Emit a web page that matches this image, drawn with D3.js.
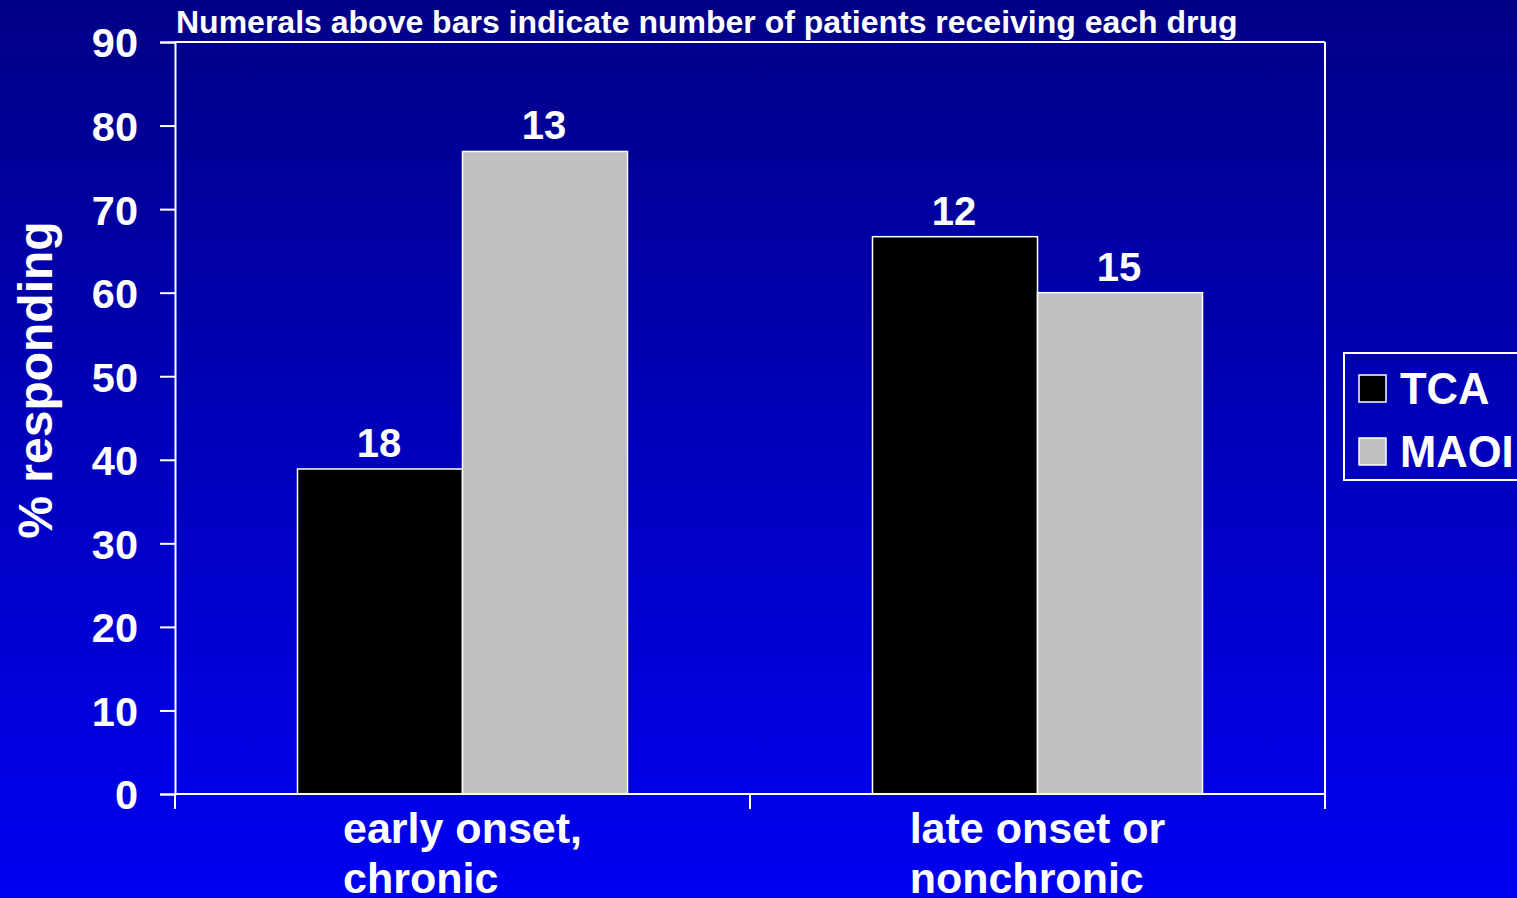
<!DOCTYPE html>
<html><head><meta charset="utf-8">
<script src="https://cdn.jsdelivr.net/npm/d3@7"></script>
<style>
html,body{margin:0;padding:0;overflow:hidden;}
text{font-family:"Liberation Sans",Arial,sans-serif;font-weight:bold;fill:#fff;}
</style></head>
<body>
<script>
const categories = [["early onset,", "chronic"], ["late onset or", "nonchronic"]];
const seriesNames = ["TCA", "MAOI"];
const seriesColors = ["#000000", "#C0C0C0"];
const tcaValues = [38.9, 66.7];
const maoiValues = [76.9, 60.0];
const patientCounts = [[18, 12], [13, 15]];
const yTicks = [0, 10, 20, 30, 40, 50, 60, 70, 80, 90];
const titleText = "Numerals above bars indicate number of patients receiving each drug";
const yTitle = "% responding";

const W = 1517, H = 898;
const m = {left: 175, right: 1325, top: 42, bottom: 794};
const svg = d3.select("body").append("svg").attr("width", W).attr("height", H);

const grad = svg.append("defs").append("linearGradient").attr("id", "bg")
  .attr("x1", 0).attr("y1", 0).attr("x2", 0).attr("y2", 1);
grad.append("stop").attr("offset", "0%").attr("stop-color", "#000086");
grad.append("stop").attr("offset", "100%").attr("stop-color", "#0000F2");
svg.append("rect").attr("width", W).attr("height", H).attr("fill", "url(#bg)");

const catIdx = categories.map((c, i) => i);
const x0 = d3.scaleBand().domain(catIdx).range([m.left, m.right]).padding(0);
const groupFrac = 330 / 575;
const x1 = d3.scaleBand().domain(seriesNames)
  .range([x0.bandwidth() * (1 - groupFrac) / 2, x0.bandwidth() * (1 + groupFrac) / 2]).padding(0);
const y = d3.scaleLinear().domain([0, 90]).range([m.bottom, m.top]);

const seriesValues = [tcaValues, maoiValues];

// frame top & right
svg.append("line").attr("x1", m.left).attr("x2", m.right).attr("y1", m.top).attr("y2", m.top)
  .attr("stroke", "#fff").attr("stroke-width", 2);
svg.append("line").attr("x1", m.right).attr("x2", m.right).attr("y1", m.top).attr("y2", m.bottom)
  .attr("stroke", "#fff").attr("stroke-width", 2);

// bars
seriesNames.forEach((s, si) => {
  svg.append("g").selectAll("rect").data(catIdx).join("rect")
    .attr("x", i => x0(i) + x1(s))
    .attr("y", i => y(seriesValues[si][i]))
    .attr("width", x1.bandwidth())
    .attr("height", i => y(0) - y(seriesValues[si][i]))
    .attr("fill", seriesColors[si])
    .attr("stroke", "#fff").attr("stroke-width", 1.5);
  svg.append("g").selectAll("text").data(catIdx).join("text")
    .attr("x", i => x0(i) + x1(s) + x1.bandwidth() / 2 - 1)
    .attr("y", i => y(seriesValues[si][i]) - 12)
    .attr("text-anchor", "middle").attr("font-size", 40)
    .text(i => patientCounts[si][i]);
});

// y axis
const yAxis = svg.append("g").attr("transform", `translate(${m.left},0)`)
  .call(d3.axisLeft(y).tickValues(yTicks).tickSize(15).tickPadding(22));
yAxis.select(".domain").attr("stroke", "#fff").attr("stroke-width", 2);
yAxis.selectAll(".tick line").attr("stroke", "#fff").attr("stroke-width", 2);
yAxis.selectAll(".tick text").attr("font-size", 41.5).attr("fill", "#fff")
  .attr("font-family", "Liberation Sans, Arial, sans-serif").attr("font-weight", "bold").attr("dy", "0.36em");

// x axis line + ticks
const xAxis = svg.append("g").attr("transform", `translate(0,${m.bottom})`);
xAxis.append("line").attr("x1", m.left).attr("x2", m.right).attr("stroke", "#fff").attr("stroke-width", 2);
const xt = [m.left, ...catIdx.map(i => x0(i) + x0.bandwidth())];
xAxis.selectAll("line.t").data(xt).join("line").attr("class", "t")
  .attr("x1", d => d).attr("x2", d => d).attr("y1", 0).attr("y2", 15)
  .attr("stroke", "#fff").attr("stroke-width", 2);

// category labels
catIdx.forEach(i => {
  const cx = x0(i) + x0.bandwidth() / 2;
  const g = svg.append("g");
  const lines = categories[i].map((t, li) => g.append("text")
    .attr("font-size", 43).attr("y", 843 + li * 50).text(t));
  const w0 = lines[0].node().getComputedTextLength();
  lines.forEach(l => l.attr("x", cx - w0 / 2));
});

// title
svg.append("text").attr("x", m.left + 1).attr("y", 33).attr("font-size", 32).text(titleText);

// y title
svg.append("text").attr("transform", `translate(52,380) rotate(-90)`)
  .attr("text-anchor", "middle").attr("font-size", 48).text(yTitle);

// legend
const lg = svg.append("g");
lg.append("rect").attr("x", 1344).attr("y", 353).attr("width", 200).attr("height", 127)
  .attr("fill", "none").attr("stroke", "#fff").attr("stroke-width", 2);
seriesNames.forEach((s, si) => {
  lg.append("rect").attr("x", 1359).attr("y", 375 + si * 63).attr("width", 27).attr("height", 27)
    .attr("fill", seriesColors[si]).attr("stroke", "#fff").attr("stroke-width", 1.5);
  lg.append("text").attr("x", 1400).attr("y", 404 + si * 63).attr("font-size", 43.5).text(s);
});
</script>
</body></html>
